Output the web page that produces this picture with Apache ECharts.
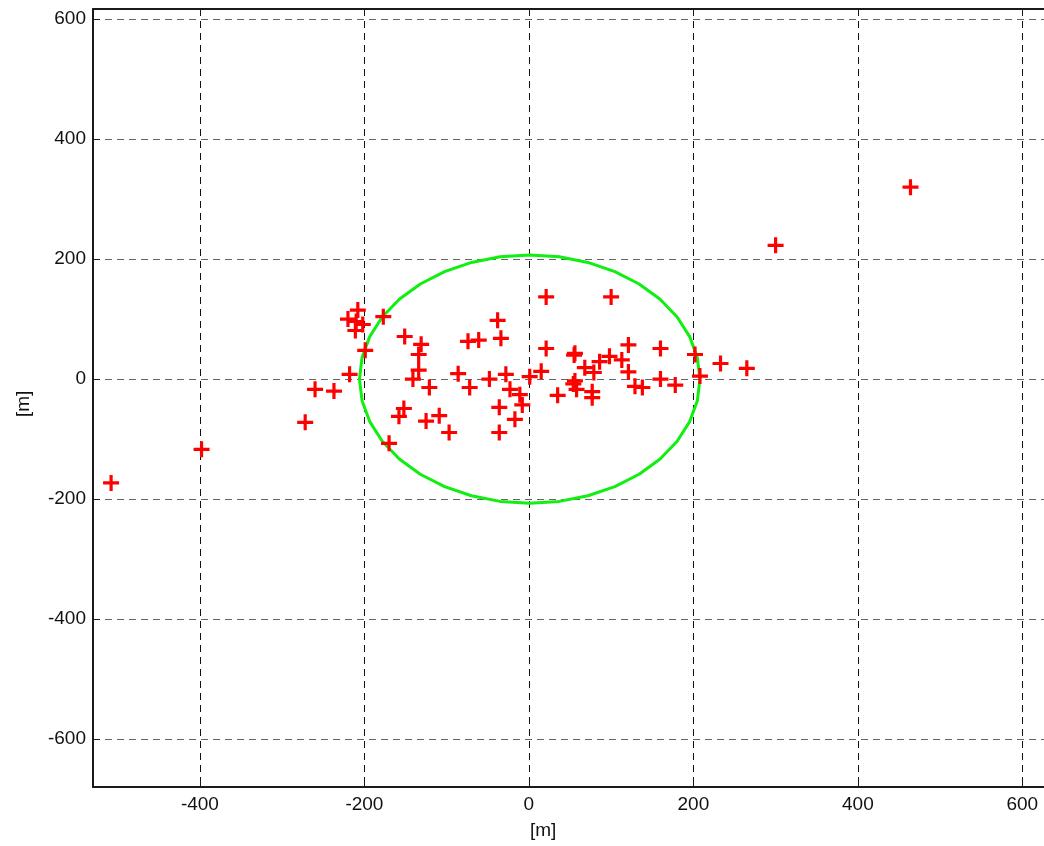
<!DOCTYPE html>
<html>
<head>
<meta charset="utf-8">
<script src="https://cdn.jsdelivr.net/npm/echarts@6/dist/echarts.min.js"></script>
<style>
html,body{margin:0;padding:0;background:#fff;}
#chart{width:1044px;height:846px;}
</style>
</head>
<body>
<div id="chart"></div>
<script>
// Data
const pointsX = [-508,-398,-272,-260,-237,-218,-220,-208,-210,-202,-211,-177,-199,-170,-151,-131,-134,-134,-141,-121,-152,-158,-125,-109,-97,-86,-72,-74,-61,-38,-34,-48,-28,-23,-11,-8,-36,-17,-36,1,15,21,100,21,35,55,56,68,79,86,98,113,121,121,129,138,160,160,178,202,208,233,265,300,464,56,58,54,77,77];
const pointsY = [-173,-117,-72,-17,-20,8,100,115,96,91,81,104,48,-107,71,58,41,15,0,-14,-49,-62,-70,-61,-89,9,-14,63,65,98,68,0,8,-17,-26,-43,-47,-67,-89,4,13,137,137,51,-27,40,43,19,11,29,38,32,57,12,-12,-14,51,0,-10,41,5,26,18,223,320,-3,-17,-8,-21,-31];
const circleCenter = [1, 0];
const circleRadius = 207;
const circleSegments = 36;
const xTickLabels = [-400,-200,0,200,400,600];
const yTickLabels = [-600,-400,-200,0,200,400,600];
const xRange = [-530, 630];
const yRange = [-680, 617];

const scatterData = pointsX.map((x, i) => [x, pointsY[i]]);
const circleData = [];
for (let k = 0; k <= circleSegments; k++) {
  const t = 2 * Math.PI * k / circleSegments;
  circleData.push([circleCenter[0] + circleRadius * Math.cos(t), circleCenter[1] + circleRadius * Math.sin(t)]);
}

const FONT = '"Liberation Sans", Arial, Helvetica, sans-serif';
const chart = echarts.init(document.getElementById('chart'), null, {renderer: 'canvas'});

function fmt(list) {
  return function (v) { return list.indexOf(Math.round(v)) >= 0 && Math.abs(v - Math.round(v)) < 1e-6 ? String(Math.round(v)) : ''; };
}

chart.setOption({
  animation: false,
  backgroundColor: '#fff',
  grid: {left: 93, top: 9, width: 954, height: 778, containLabel: false, outerBoundsMode: 'none'},
  xAxis: [{
    type: 'value', min: xRange[0], max: xRange[1], splitNumber: 6,
    axisLine: {show: true, onZero: false, lineStyle: {color: '#1a1a1a', width: 2}},
    axisTick: {show: true, inside: true, length: 7, lineStyle: {color: '#1a1a1a', width: 1}},
    axisLabel: {show: true, margin: 8, color: '#111', fontSize: 19, fontFamily: FONT, formatter: fmt(xTickLabels), showMinLabel: true, showMaxLabel: true},
    splitLine: {show: true, lineStyle: {color: '#111', width: 1, type: [7, 5]}}
  }, {
    type: 'value', position: 'top', min: xRange[0], max: xRange[1], splitNumber: 6,
    axisLine: {show: true, onZero: false, lineStyle: {color: '#1a1a1a', width: 2}},
    axisTick: {show: true, inside: true, length: 7, lineStyle: {color: '#1a1a1a', width: 1}},
    axisLabel: {show: false},
    splitLine: {show: false}
  }],
  yAxis: [{
    type: 'value', min: yRange[0], max: yRange[1], splitNumber: 6,
    axisLine: {show: true, onZero: false, lineStyle: {color: '#1a1a1a', width: 2}},
    axisTick: {show: true, inside: true, length: 7, lineStyle: {color: '#1a1a1a', width: 1}},
    axisLabel: {show: true, margin: 7, color: '#111', fontSize: 19, fontFamily: FONT, formatter: fmt(yTickLabels)},
    splitLine: {show: true, lineStyle: {color: '#666', width: 1, type: [7, 5]}}
  }],
  graphic: [
    {type: 'text', left: 548 - 18, top: 821, style: {text: '[m]', fontSize: 19, fontFamily: FONT, fill: '#111'}},
    {type: 'text', x: 14, y: 417, rotation: Math.PI / 2, style: {text: '[m]', fontSize: 19, fontFamily: FONT, fill: '#111'}}
  ],
  series: [{
    type: 'line', data: circleData, showSymbol: false, symbol: 'none', smooth: false,
    lineStyle: {color: '#11ee11', width: 3}, z: 2, silent: true
  }, {
    type: 'scatter', data: scatterData,
    symbol: 'path://M4,0H6V10H4ZM0,4H10V6H0Z', symbolSize: 16,
    itemStyle: {color: '#ff0000', opacity: 1}, z: 3, silent: true
  }]
});
</script>
</body>
</html>
